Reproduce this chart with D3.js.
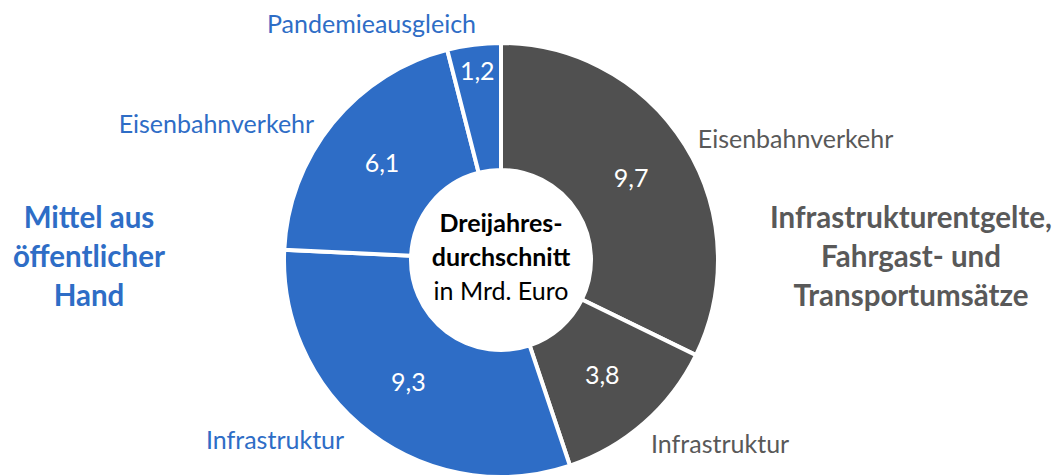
<!DOCTYPE html>
<html>
<head>
<meta charset="utf-8">
<script src="https://cdn.jsdelivr.net/npm/d3@7"></script>
<style>
  html, body { margin: 0; padding: 0; background: #fff; }
  svg { display: block; font-family: Lato, "Open Sans", sans-serif; }
</style>
</head>
<body>
<svg id="chart"></svg>
<script>
// Data
const categories = ["Eisenbahnverkehr", "Infrastruktur", "Infrastruktur", "Eisenbahnverkehr", "Pandemieausgleich"];
const groups = ["nutzer", "nutzer", "staat", "staat", "staat"];
const values = [9.7, 3.8, 9.3, 6.1, 1.2];
const centerLines = ["Dreijahres-", "durchschnitt", "in Mrd. Euro"];
const leftTitle = ["Mittel aus", "öffentlicher", "Hand"];
const rightTitle = ["Infrastrukturentgelte,", "Fahrgast- und", "Transportumsätze"];

// Layout
const W = 1062, H = 476;
const cx = 501, cy = 260;
const outerR = 217, innerR = 90;
const fill = { nutzer: "#505050", staat: "#2E6DC6" };
const textColor = { nutzer: "#595959", staat: "#2E6DC6" };
// small hand adjustments for the category labels (like Excel's label placement)
const labelNudge = [[0, 11], [-3, 19], [-17, 4], [-7, 20], [4, 3]];

const svg = d3.select("#chart").attr("width", W).attr("height", H);
const g = svg.append("g").attr("transform", `translate(${cx},${cy})`);

const pie = d3.pie().sort(null).value(d => d).startAngle(0).endAngle(2 * Math.PI);
const arcs = pie(values);
const arc = d3.arc().innerRadius(innerR).outerRadius(outerR);
const edgeArc = d3.arc().innerRadius(190).outerRadius(190);
const outArc = d3.arc().innerRadius(232).outerRadius(232);
const fmt = d3.formatLocale({ decimal: ",", thousands: ".", grouping: [3], currency: ["", " €"] }).format(".1f");

// Slices
g.selectAll("path.slice")
  .data(arcs)
  .join("path")
  .attr("class", "slice")
  .attr("d", arc)
  .attr("fill", (d, i) => fill[groups[i]])
  .attr("stroke", "#fff")
  .attr("stroke-width", 4)
  .attr("stroke-linejoin", "miter");

// Values inside slices
g.selectAll("text.val")
  .data(arcs)
  .join("text")
  .attr("class", "val")
  .attr("transform", d => {
    const c = (d.endAngle - d.startAngle) < 0.4 ? edgeArc.centroid(d) : arc.centroid(d);
    return `translate(${c[0]},${c[1]})`;
  })
  .attr("text-anchor", "middle")
  .attr("dy", "0.35em")
  .attr("fill", "#fff")
  .attr("font-size", 25)
  .text(d => fmt(d.data));

// Category labels outside
g.selectAll("text.cat")
  .data(arcs)
  .join("text")
  .attr("class", "cat")
  .attr("x", (d, i) => outArc.centroid(d)[0] + labelNudge[i][0])
  .attr("y", (d, i) => outArc.centroid(d)[1] + labelNudge[i][1])
  .attr("text-anchor", d => (d.startAngle + d.endAngle) / 2 < Math.PI ? "start" : "end")
  .attr("fill", (d, i) => textColor[groups[i]])
  .attr("font-size", 25)
  .text((d, i) => categories[i]);

// Centre text
g.selectAll("text.center")
  .data(centerLines)
  .join("text")
  .attr("class", "center")
  .attr("x", 0)
  .attr("y", (d, i) => -28 + i * 34)
  .attr("text-anchor", "middle")
  .attr("fill", "#000")
  .attr("font-size", 25)
  .attr("font-weight", (d, i) => i < 2 ? "bold" : "normal")
  .text(d => d);

// Group titles
function title(lines, x, color) {
  svg.append("g").selectAll("text")
    .data(lines)
    .join("text")
    .attr("x", x)
    .attr("y", (d, i) => 228 + i * 39)
    .attr("text-anchor", "middle")
    .attr("fill", color)
    .attr("font-size", 29.5)
    .attr("font-weight", "bold")
    .text(d => d);
}
title(leftTitle, 89, textColor.staat);
title(rightTitle, 911, textColor.nutzer);
</script>
</body>
</html>
